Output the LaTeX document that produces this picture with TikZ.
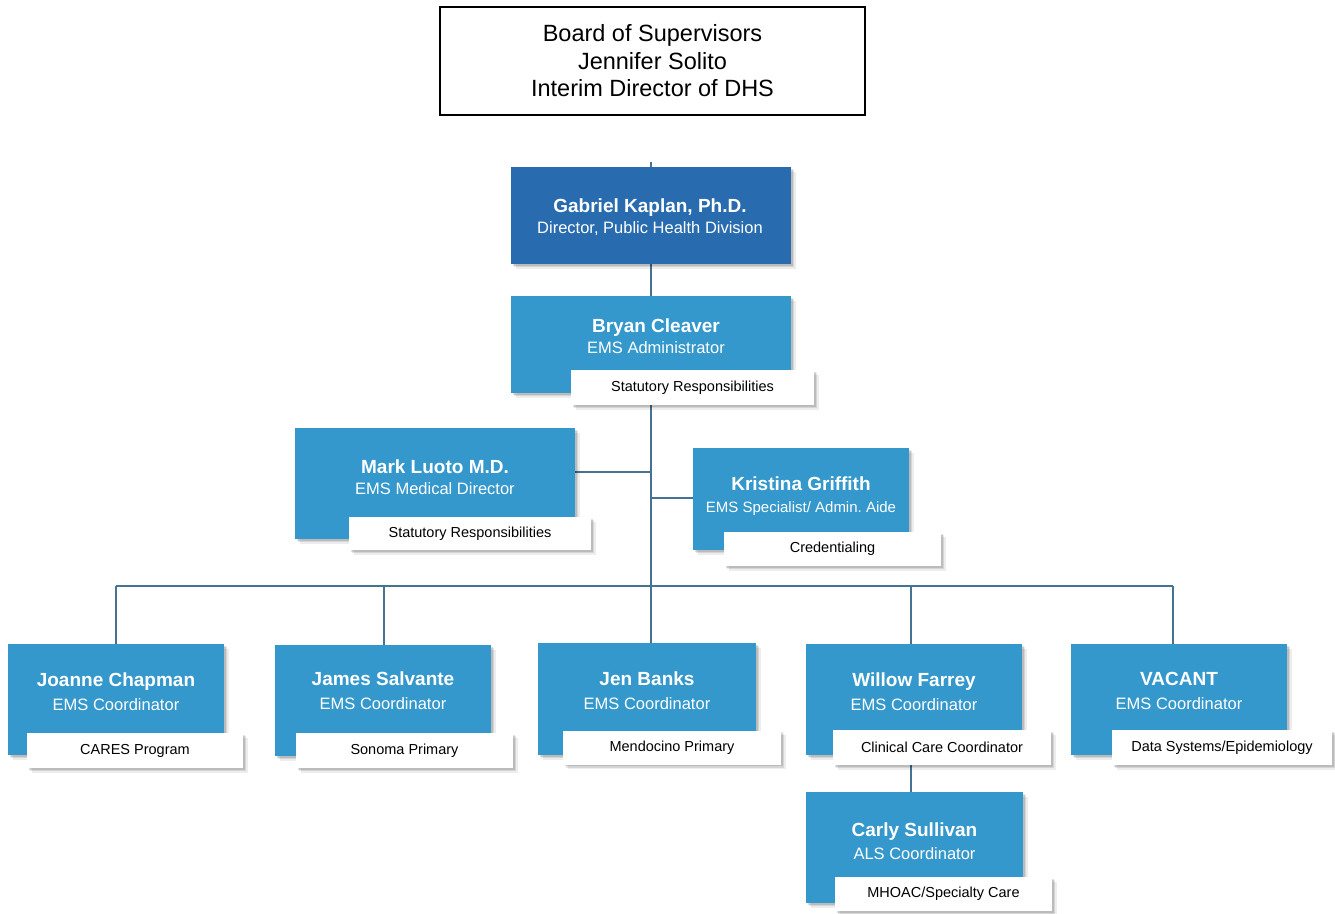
\documentclass[tikz,border=0pt]{standalone}
\usepackage{fontspec}
\setmainfont{Liberation Sans}
\usetikzlibrary{shadows,backgrounds}
\definecolor{dblue}{RGB}{40,108,175}
\definecolor{lblue}{RGB}{52,152,204}
\definecolor{linec}{RGB}{70,115,145}
\frenchspacing
\newcommand{\nmsub}[3][0pt]{{\bfseries\fontsize{19}{24}\selectfont #2}\\[#1]#3}
\tikzset{
  shad/.style={drop shadow={shadow xshift=1.5pt,shadow yshift=-1.5pt,opacity=0.12,fill=black},
               drop shadow={shadow xshift=3pt,shadow yshift=-3pt,opacity=0.10,fill=black},
               drop shadow={shadow xshift=4.5pt,shadow yshift=-4.5pt,opacity=0.07,fill=black}},
  bluebox/.style 2 args={fill=lblue, draw=none, minimum width=#1pt, minimum height=#2pt, inner sep=0pt, shad},
  darkbox/.style 2 args={fill=dblue, draw=none, minimum width=#1pt, minimum height=#2pt, inner sep=0pt, shad},
  tagbox/.style 2 args={fill=white, draw=none, minimum width=#1pt, minimum height=#2pt, inner sep=0pt, shad,
     font=\fontsize{14.5}{17}\selectfont, text=black},
  boxtext/.style={text=white, align=center, inner sep=0pt, font=\fontsize{16.5}{24}\selectfont},
  conn/.style={draw=linec, line width=1.2pt},
}
\begin{document}
\begin{tikzpicture}[x=1pt,y=-1pt]
\useasboundingbox (0,0) rectangle (1335,913);
% Board
\node[draw=black, line width=1.5pt, fill=white, minimum width=425pt, minimum height=108pt, inner sep=0pt,
  align=center, font=\fontsize{23.5}{27.5}\selectfont] (board) at (652.5,61)
  {Board of Supervisors\\Jennifer Solito\\Interim Director of DHS};
% Gabriel
\node[darkbox={280}{97}] (gab) at (651,215.5) {};
\node[boxtext] (gabt) at (650,217) {\nmsub[-3pt]{Gabriel Kaplan, Ph.D.}{Director, Public Health Division}};
% Bryan
\node[bluebox={280}{97}] (bry) at (651,344.5) {};
\node[boxtext] (bryt) at (656,336.5) {\nmsub[-3pt]{Bryan Cleaver}{EMS Administrator}};
\node[tagbox={243}{35}] (bryg) at (692.5,387.5) {Statutory Responsibilities};
% Mark
\node[bluebox={280}{111}] (mark) at (435,483.5) {};
\node[boxtext] (markt) at (435,477.5) {\nmsub[-3pt]{Mark Luoto M.D.}{EMS Medical Director}};
\node[tagbox={242}{33}] (markg) at (470,533.5) {Statutory Responsibilities};
% Kristina
\node[bluebox={216}{102}] (kri) at (801,499) {};
\node[boxtext] (krit) at (801,496) {\nmsub[-2pt]{Kristina Griffith}{\fontsize{15}{24}\selectfont EMS Specialist/ Admin. Aide}};
\node[tagbox={217}{34}] (krig) at (832.5,549) {Credentialing};
% Joanne
\node[bluebox={216}{111}] (joa) at (116,699.5) {};
\node[boxtext] (joat) at (116,692) {\nmsub{Joanne Chapman}{EMS Coordinator}};
\node[tagbox={216}{35}] (joag) at (135,750.5) {CARES Program};
% James
\node[bluebox={216}{111}] (jam) at (383,700.5) {};
\node[boxtext] (jamt) at (383,691) {\nmsub{James Salvante}{EMS Coordinator}};
\node[tagbox={217}{35}] (jamg) at (404.5,750.5) {Sonoma Primary};
% Jen
\node[bluebox={218}{112}] (jen) at (647,699) {};
\node[boxtext] (jent) at (647,691) {\nmsub{Jen Banks}{EMS Coordinator}};
\node[tagbox={218}{34}] (jeng) at (672,747.5) {Mendocino Primary};
% Willow
\node[bluebox={216}{111}] (wil) at (914,699.5) {};
\node[boxtext] (wilt) at (914,691.5) {\nmsub{Willow Farrey}{EMS Coordinator}};
\node[tagbox={218}{35}] (wilg) at (942,747.5) {Clinical Care Coordinator};
% Vacant
\node[bluebox={216}{111}] (vac) at (1179,699.5) {};
\node[boxtext] (vact) at (1179,690.5) {\nmsub{VACANT}{EMS Coordinator}};
\node[tagbox={220}{35}] (vacg) at (1222,747.5) {Data Systems/Epidemiology};
% Carly
\node[bluebox={217}{111}] (car) at (914.5,847.5) {};
\node[boxtext] (cart) at (914.5,841.5) {\nmsub[-1pt]{Carly Sullivan}{ALS Coordinator}};
\node[tagbox={217}{34}] (carg) at (943.5,894) {MHOAC/Specialty Care};
% connectors
\begin{scope}[on background layer]
\coordinate (top) at (651,162);
\coordinate (mj) at (651,472);
\coordinate (kj) at (651,498);
\coordinate (b1) at (116,586);
\coordinate (b2) at (384,586);
\coordinate (b3) at (651,586);
\coordinate (b4) at (911,586);
\coordinate (b5) at (1173,586);
\draw[conn] (top) -- (gab.north);
\draw[conn] (gab.south) -- (bry.north);
\draw[conn] (bry.south) -- (b3);
\draw[conn] (mj) -- (mj -| mark.east);
\draw[conn] (kj) -- (kj -| kri.west);
\draw[conn] (b1) -- (b5);
\draw[conn] (b1) -- (b1 |- joa.north);
\draw[conn] (b2) -- (b2 |- jam.north);
\draw[conn] (b3) -- (b3 |- jen.north);
\draw[conn] (b4) -- (b4 |- wil.north);
\draw[conn] (b5) -- (b5 |- vac.north);
\draw[conn] (b4 |- wilg.south) -- (b4 |- car.north);
\end{scope}
\end{tikzpicture}
\end{document}
